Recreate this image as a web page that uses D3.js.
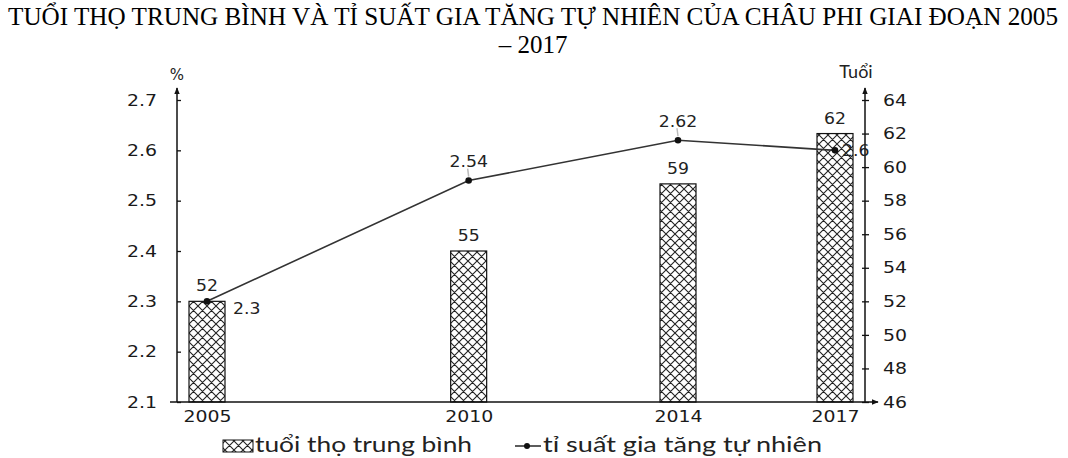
<!DOCTYPE html>
<html><head><meta charset="utf-8">
<script src="https://cdn.jsdelivr.net/npm/d3@7"></script>
<style>body{margin:0;background:#fff}svg{display:block}</style>
</head><body>
<svg id="c" width="1068" height="458"></svg>
<script>
const years = [2005, 2010, 2014, 2017];
const lifeExpectancy = [52, 55, 59, 62];
const growthRate = [2.3, 2.54, 2.62, 2.6];
const leftTicks = [2.1, 2.2, 2.3, 2.4, 2.5, 2.6, 2.7];
const rightTicks = [46, 48, 50, 52, 54, 56, 58, 60, 62, 64];
const titleLines = ["TUỔI THỌ TRUNG BÌNH VÀ TỈ SUẤT GIA TĂNG TỰ NHIÊN CỦA CHÂU PHI GIAI ĐOẠN 2005", "– 2017"];
const legendLabels = ["tuổi thọ trung bình", "tỉ suất gia tăng tự nhiên"];

const svg = d3.select("#c");
const sans = "DejaVu Sans, Verdana, sans-serif";
const cal = "Lato, Carlito, Calibri, sans-serif";
const axL = 177, axR = 865, y0 = 402, y1 = 100;
const x = d3.scaleLinear().domain([2005, 2017]).range([207, 835]);
const yL = d3.scaleLinear().domain([2.1, 2.7]).range([y0, y1]);
const yR = d3.scaleLinear().domain([46, 64]).range([y0, y1]);

function stretch(sel, f) {
  sel.each(function () {
    const w = this.getComputedTextLength();
    d3.select(this).attr("textLength", w * f).attr("lengthAdjust", "spacingAndGlyphs");
  });
}

const defs = svg.append("defs");
const P = 9;
const pat = defs.append("pattern").attr("id", "hatch").attr("patternUnits", "userSpaceOnUse")
  .attr("width", P).attr("height", P);
pat.append("rect").attr("width", P).attr("height", P).attr("fill", "#fff");
pat.append("path").attr("d", `M0,0L${P},${P}M${P},0L0,${P}M-1,${P-1}L1,${P+1}M${P-1},-1L${P+1},1M-1,1L1,-1M${P-1},${P+1}L${P+1},${P-1}`)
  .attr("stroke", "#222").attr("stroke-width", 1.1);
const mk = defs.append("marker").attr("id", "arr").attr("viewBox", "0 0 10 10").attr("refX", 9).attr("refY", 5)
  .attr("markerWidth", 7).attr("markerHeight", 7).attr("orient", "auto-start-reverse").attr("markerUnits", "userSpaceOnUse");
mk.append("path").attr("d", "M0,1L10,5L0,9Z").attr("fill", "#111");

// title
const tt = svg.append("g").selectAll("text").data(titleLines).join("text")
  .attr("x", 533).attr("y", (d, i) => 25 + i * 28).attr("text-anchor", "middle")
  .attr("font-family", "Liberation Serif, Times New Roman, serif")
  .attr("font-size", 25).attr("fill", "#000").text(d => d);
tt.filter((d, i) => i === 0).attr("textLength", 1050).attr("lengthAdjust", "spacingAndGlyphs");

// bars
const bw = 36;
svg.append("g").selectAll("rect").data(years).join("rect")
  .attr("x", (d) => x(d) - bw / 2).attr("width", bw)
  .attr("y", (d, i) => yR(lifeExpectancy[i])).attr("height", (d, i) => y0 - yR(lifeExpectancy[i]))
  .attr("fill", "url(#hatch)").attr("stroke", "#111").attr("stroke-width", 1.2);

// axes lines
svg.append("line").attr("x1", 170).attr("x2", 878).attr("y1", y0).attr("y2", y0)
  .attr("stroke", "#111").attr("stroke-width", 1.5).attr("marker-end", "url(#arr)");
svg.append("line").attr("x1", axL).attr("x2", axL).attr("y1", y0).attr("y2", 88)
  .attr("stroke", "#111").attr("stroke-width", 1.5).attr("marker-end", "url(#arr)");
svg.append("line").attr("x1", axR).attr("x2", axR).attr("y1", y0).attr("y2", 88)
  .attr("stroke", "#111").attr("stroke-width", 1.5).attr("marker-end", "url(#arr)");

// left axis
const gl = svg.append("g").attr("transform", `translate(${axL},0)`)
  .call(d3.axisLeft(yL).tickValues(leftTicks).tickFormat(d3.format(".1f")).tickSize(-4).tickPadding(20));
gl.select(".domain").remove();
gl.selectAll("line").attr("stroke", "#111").attr("stroke-width", 1.3);
gl.selectAll("text").attr("font-family", sans).attr("font-size", 16).attr("fill", "#1a1a1a").call(stretch, 1.18);

const gr = svg.append("g").attr("transform", `translate(${axR},0)`)
  .call(d3.axisRight(yR).tickValues(rightTicks).tickSize(4).tickPadding(14));
gr.select(".domain").remove();
gr.selectAll("line").attr("x1", -3).attr("stroke", "#111").attr("stroke-width", 1.3);
gr.selectAll("text").attr("font-family", sans).attr("font-size", 16).attr("fill", "#1a1a1a").call(stretch, 1.18);

// x axis labels
const gx = svg.append("g").attr("transform", `translate(0,${y0})`)
  .call(d3.axisBottom(x).tickValues(years).tickFormat(d3.format("d")).tickSize(0).tickPadding(9));
gx.select(".domain").remove();
gx.selectAll("text").attr("font-family", sans).attr("font-size", 16).attr("fill", "#1a1a1a").call(stretch, 1.18);

// unit labels
svg.append("text").attr("x", axL).attr("y", 80).attr("text-anchor", "middle")
  .attr("font-family", sans).attr("font-size", 15).attr("fill", "#222").text("%");
svg.append("text").attr("x", 856).attr("y", 78).attr("text-anchor", "middle")
  .attr("font-family", cal).attr("font-size", 18).attr("fill", "#222").text("Tuổi");

// line
const line = d3.line().x((d, i) => x(years[i])).y(d => yL(d));
svg.append("path").datum(growthRate).attr("d", line).attr("fill", "none")
  .attr("stroke", "#333").attr("stroke-width", 1.6);
svg.append("g").selectAll("circle").data(growthRate).join("circle")
  .attr("cx", (d, i) => x(years[i])).attr("cy", d => yL(d)).attr("r", 3.3).attr("fill", "#111");

// leader ticks (light gray)
svg.append("g").selectAll("line").data([1, 2]).join("line")
  .attr("x1", i => x(years[i]) - 1).attr("x2", i => x(years[i]))
  .attr("y1", i => yL(growthRate[i]) - 12).attr("y2", i => yL(growthRate[i]) - 4)
  .attr("stroke", "#bbb").attr("stroke-width", 1.5);

// bar labels
svg.append("g").selectAll("text").data(lifeExpectancy).join("text")
  .attr("x", (d, i) => x(years[i])).attr("y", d => yR(d) - 10).attr("text-anchor", "middle")
  .attr("font-family", sans).attr("font-size", 15).attr("fill", "#222").text(d => d).call(stretch, 1.15);

// line labels
const lblPos = [[26, 13, "start"], [0, -14, "middle"], [0, -13, "middle"], [7, 6, "start"]];
svg.append("g").selectAll("text").data(growthRate).join("text")
  .attr("x", (d, i) => x(years[i]) + lblPos[i][0]).attr("y", (d, i) => yL(d) + lblPos[i][1])
  .attr("text-anchor", (d, i) => lblPos[i][2])
  .attr("font-family", sans).attr("font-size", 15).attr("fill", "#222").text(d => d).call(stretch, 1.15);

// legend
const lg = svg.append("g");
lg.append("rect").attr("x", 223).attr("y", 440).attr("width", 30).attr("height", 12)
  .attr("fill", "url(#hatch)").attr("stroke", "#111").attr("stroke-width", 1);
lg.append("text").attr("x", 255).attr("y", 452).attr("font-family", cal).attr("font-size", 21)
  .attr("fill", "#222").text(legendLabels[0]).attr("textLength", 217).attr("lengthAdjust", "spacingAndGlyphs");
lg.append("line").attr("x1", 515).attr("x2", 541).attr("y1", 446).attr("y2", 446).attr("stroke", "#333").attr("stroke-width", 1.6);
lg.append("circle").attr("cx", 527).attr("cy", 446).attr("r", 3).attr("fill", "#111");
lg.append("text").attr("x", 543).attr("y", 452).attr("font-family", cal).attr("font-size", 21)
  .attr("fill", "#222").text(legendLabels[1]).attr("textLength", 279).attr("lengthAdjust", "spacingAndGlyphs");
</script>
</body></html>
